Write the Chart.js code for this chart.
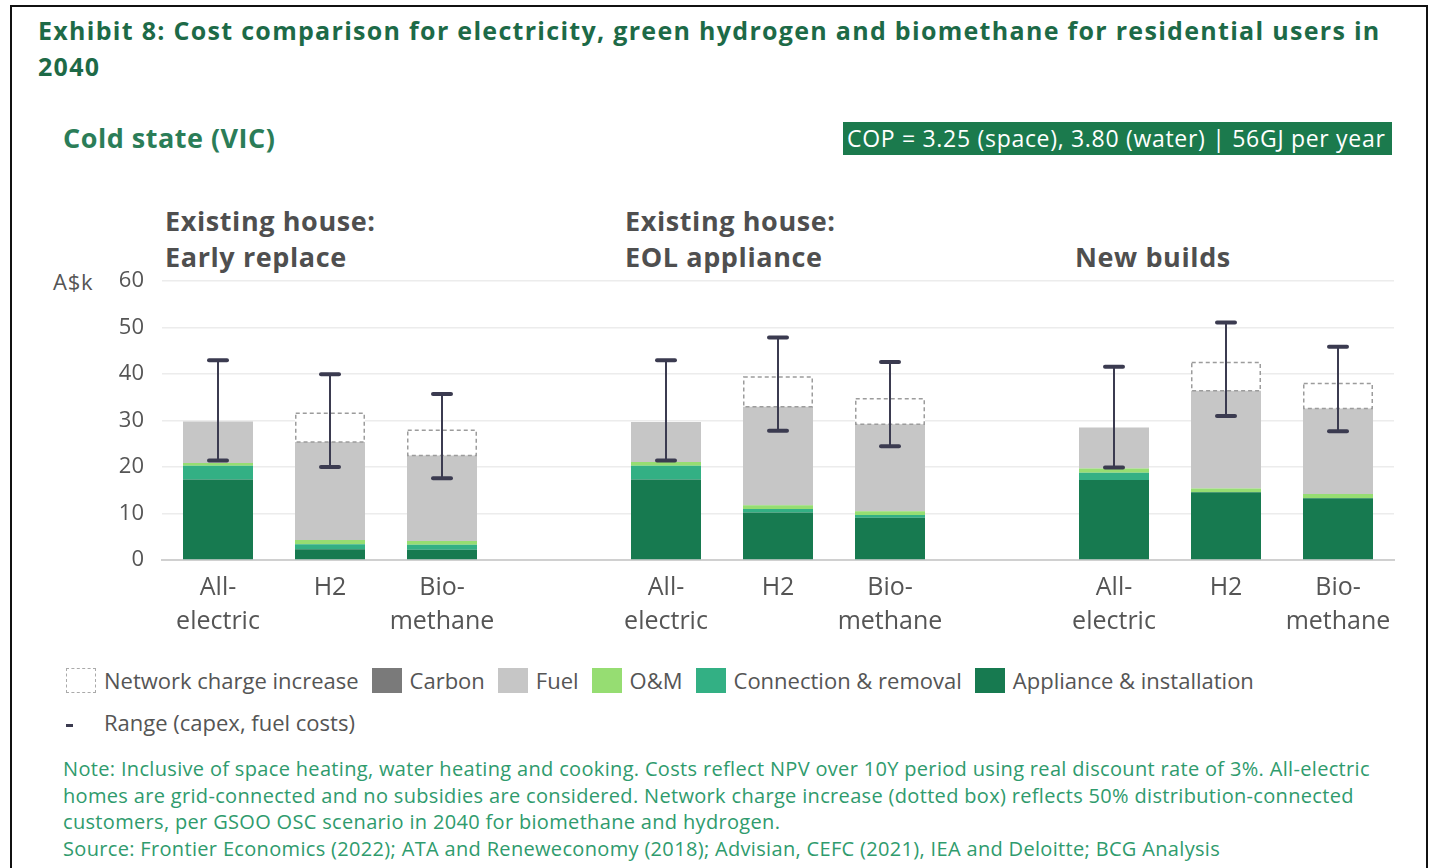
<!DOCTYPE html>
<html>
<head>
<meta charset="utf-8">
<script src="https://cdn.jsdelivr.net/npm/chart.js@4.4.1/dist/chart.umd.min.js"></script>
<style>
  html, body { margin: 0; padding: 0; background: #fff; }
  body { width: 1432px; height: 868px; position: relative; overflow: hidden; font-family: 'Open Sans', sans-serif; }
  .frame { position: absolute; left: 10px; top: 5px; width: 1418px; height: 880px; border: 2px solid #111; box-sizing: border-box; }
  .abs { position: absolute; white-space: nowrap; }
  #title { left: 38px; top: 12px; font-size: 25px; letter-spacing: 1.3px; font-weight: 700; line-height: 36px; color: #1d6a47; }
  #region { left: 63px; top: 119px; font-size: 27px; letter-spacing: 0.5px; font-weight: 700; color: #2b7d58; }
  #cop { left: 843px; top: 122px; width: 549px; height: 33px; background: #1b7a4d; color: #fff; font-size: 23px; letter-spacing: 0.7px; line-height: 33px; padding-left: 4px; box-sizing: border-box; }
  .grp { font-size: 27px; letter-spacing: 0.6px; font-weight: 700; color: #4f4f4f; line-height: 36px; }
  #unit { left: 53px; top: 266px; font-size: 22px; letter-spacing: 0.8px; color: #555; }
  #chartBox { position: absolute; left: 100px; top: 250px; width: 1320px; height: 410px; }
  #legend { left: 66px; top: 665px; display: flex; align-items: center; font-size: 22px; color: #555; }
  #legend .item { display: flex; align-items: center; margin-right: 13px; }
  #legend .sw { width: 30px; height: 25px; margin-right: 8px; box-sizing: border-box; }
  #range { left: 66px; top: 707px; font-size: 22px; color: #555; }
  #range .dash { display: inline-block; width: 7px; height: 3px; background: #3b3b50; margin-right: 31px; vertical-align: middle; }
  #notes { left: 63px; top: 756px; font-size: 20px; letter-spacing: 0.33px; line-height: 26.7px; color: #2f9b6d; }
</style>
</head>
<body>
<div class="frame"></div>
<div id="title" class="abs">Exhibit 8: Cost comparison for electricity, green hydrogen and biomethane for residential users in<br>2040</div>
<div id="region" class="abs">Cold state (VIC)</div>
<div id="cop" class="abs">COP = 3.25 (space), 3.80 (water) | 56GJ per year</div>
<div class="abs grp" style="left:165px; top:203px;">Existing house:<br>Early replace</div>
<div class="abs grp" style="left:625px; top:203px;">Existing house:<br>EOL appliance</div>
<div class="abs grp" style="left:1075px; top:239px;">New builds</div>
<div id="unit" class="abs">A$k</div>
<div id="chartBox"><canvas id="chart"></canvas></div>
<div id="legend" class="abs"></div>
<div id="range" class="abs"><span class="dash"></span>Range (capex, fuel costs)</div>
<div id="notes" class="abs">Note: Inclusive of space heating, water heating and cooking. Costs reflect NPV over 10Y period using real discount rate of 3%. All-electric<br>homes are grid-connected and no subsidies are considered. Network charge increase (dotted box) reflects 50% distribution-connected<br>customers, per GSOO OSC scenario in 2040 for biomethane and hydrogen.<br>Source: Frontier Economics (2022); ATA and Reneweconomy (2018); Advisian, CEFC (2021), IEA and Deloitte; BCG Analysis</div>

<script>
  // Three scenarios x three technologies, empty slots keep the groups apart
  const categories = [
    ['All-', 'electric'], 'H2', ['Bio-', 'methane'], '',
    ['All-', 'electric'], 'H2', ['Bio-', 'methane'], '',
    ['All-', 'electric'], 'H2', ['Bio-', 'methane']
  ];

  // Stacked cost components, A$k (bottom to top)
  const applianceInstall = [17.3, 2.3, 2.2, null, 17.3, 10.2, 9.1, null, 17.2, 14.6, 13.3];
  const connectionRemoval = [3.0, 1.1, 1.1, null, 3.0, 0.8, 0.6, null, 1.6, 0.0, 0.0];
  const operationsMaint = [0.6, 0.9, 0.8, null, 0.8, 0.8, 0.8, null, 0.9, 0.8, 0.9];
  const fuelCost = [8.9, 21.1, 18.4, null, 8.6, 21.2, 18.7, null, 8.8, 21.0, 18.4];
  const carbonCost = [0, 0, 0, null, 0, 0, 0, null, 0, 0, 0];
  const networkCharge = [0, 6.2, 5.4, null, 0, 6.4, 5.5, null, 0, 6.1, 5.4];

  // Range (capex, fuel costs)
  const rangeLow = [21.4, 20.0, 17.6, null, 21.4, 27.8, 24.5, null, 19.9, 31.0, 27.7];
  const rangeHigh = [43.0, 40.0, 35.7, null, 43.0, 47.9, 42.6, null, 41.6, 51.1, 45.9];

  const yTicks = [0, 10, 20, 30, 40, 50, 60];

  const NETWORK = 'Network charge increase';

  const datasets = [
    { label: 'Appliance & installation', data: applianceInstall, backgroundColor: '#177a50' },
    { label: 'Connection & removal', data: connectionRemoval, backgroundColor: '#33b084' },
    { label: 'O&M', data: operationsMaint, backgroundColor: '#96dd72' },
    { label: 'Fuel', data: fuelCost, backgroundColor: '#c6c6c6' },
    { label: 'Carbon', data: carbonCost, backgroundColor: '#7a7a7a' },
    { label: NETWORK, data: networkCharge, backgroundColor: '#ffffff' }
  ].map(ds => Object.assign(ds, { barPercentage: 0.625, categoryPercentage: 1, borderWidth: 0 }));

  // dotted outline round the network segments + range whiskers
  const overlays = {
    id: 'overlays',
    afterDatasetsDraw(chart) {
      const { ctx, scales: { x, y } } = chart;
      const netIdx = chart.data.datasets.findIndex(d => d.label === NETWORK);
      const meta = chart.getDatasetMeta(netIdx);

      ctx.save();
      ctx.setLineDash([4, 3]);
      ctx.strokeStyle = '#9c9c9c';
      ctx.lineWidth = 1.5;
      meta.data.forEach((bar, i) => {
        if (!networkCharge[i]) return;
        const p = bar.getProps(['x', 'y', 'base', 'width'], true);
        ctx.strokeRect(p.x - p.width / 2 + 0.75, p.y, p.width - 1.5, p.base - p.y);
      });

      ctx.setLineDash([]);
      ctx.strokeStyle = '#3b3b50';
      rangeLow.forEach((lo, i) => {
        if (lo == null) return;
        const px = x.getPixelForValue(i);
        const yLo = y.getPixelForValue(lo);
        const yHi = y.getPixelForValue(rangeHigh[i]);
        ctx.lineWidth = 2;
        ctx.beginPath();
        ctx.moveTo(px, yLo);
        ctx.lineTo(px, yHi);
        ctx.stroke();
        ctx.lineWidth = 4;
        ctx.lineCap = 'round';
        [yLo, yHi].forEach(py => {
          ctx.beginPath();
          ctx.moveTo(px - 9, py);
          ctx.lineTo(px + 9, py);
          ctx.stroke();
        });
        ctx.lineCap = 'butt';
      });
      ctx.restore();
    }
  };

  Chart.defaults.font.family = "'Open Sans', sans-serif";

  new Chart(document.getElementById('chart'), {
    type: 'bar',
    data: { labels: categories, datasets },
    plugins: [overlays],
    options: {
      responsive: true,
      maintainAspectRatio: false,
      animation: false,
      layout: { padding: { top: 21, right: 26, bottom: 20, left: 0 } },
      plugins: {
        legend: { display: false },
        tooltip: { enabled: false }
      },
      scales: {
        x: {
          stacked: true,
          grid: { display: false, drawTicks: false },
          border: { display: true, color: '#d0d0d0', width: 2 },
          ticks: {
            color: '#555',
            padding: 11,
            autoSkip: false,
            maxRotation: 0,
            font: { size: 25, lineHeight: 1.36 }
          },
          afterFit(scale) { scale.height = 80; }
        },
        y: {
          stacked: true,
          min: 0,
          max: 60,
          afterBuildTicks(scale) { scale.ticks = yTicks.map(v => ({ value: v })); },
          grid: { color: '#ececec', lineWidth: 1.5, drawTicks: false },
          border: { display: false },
          ticks: { color: '#555', padding: 18, font: { size: 22 } },
          afterFit(scale) { scale.width = 62; }
        }
      }
    }
  });

  // legend, top-of-stack first
  const legendEl = document.getElementById('legend');
  datasets.slice().reverse().forEach(ds => {
    const item = document.createElement('div');
    item.className = 'item';
    const sw = document.createElement('span');
    sw.className = 'sw';
    if (ds.label === NETWORK) {
      sw.style.border = '1.5px dashed #aaa';
    } else {
      sw.style.background = ds.backgroundColor;
    }
    item.appendChild(sw);
    item.appendChild(document.createTextNode(ds.label));
    legendEl.appendChild(item);
  });
</script>
</body>
</html>
